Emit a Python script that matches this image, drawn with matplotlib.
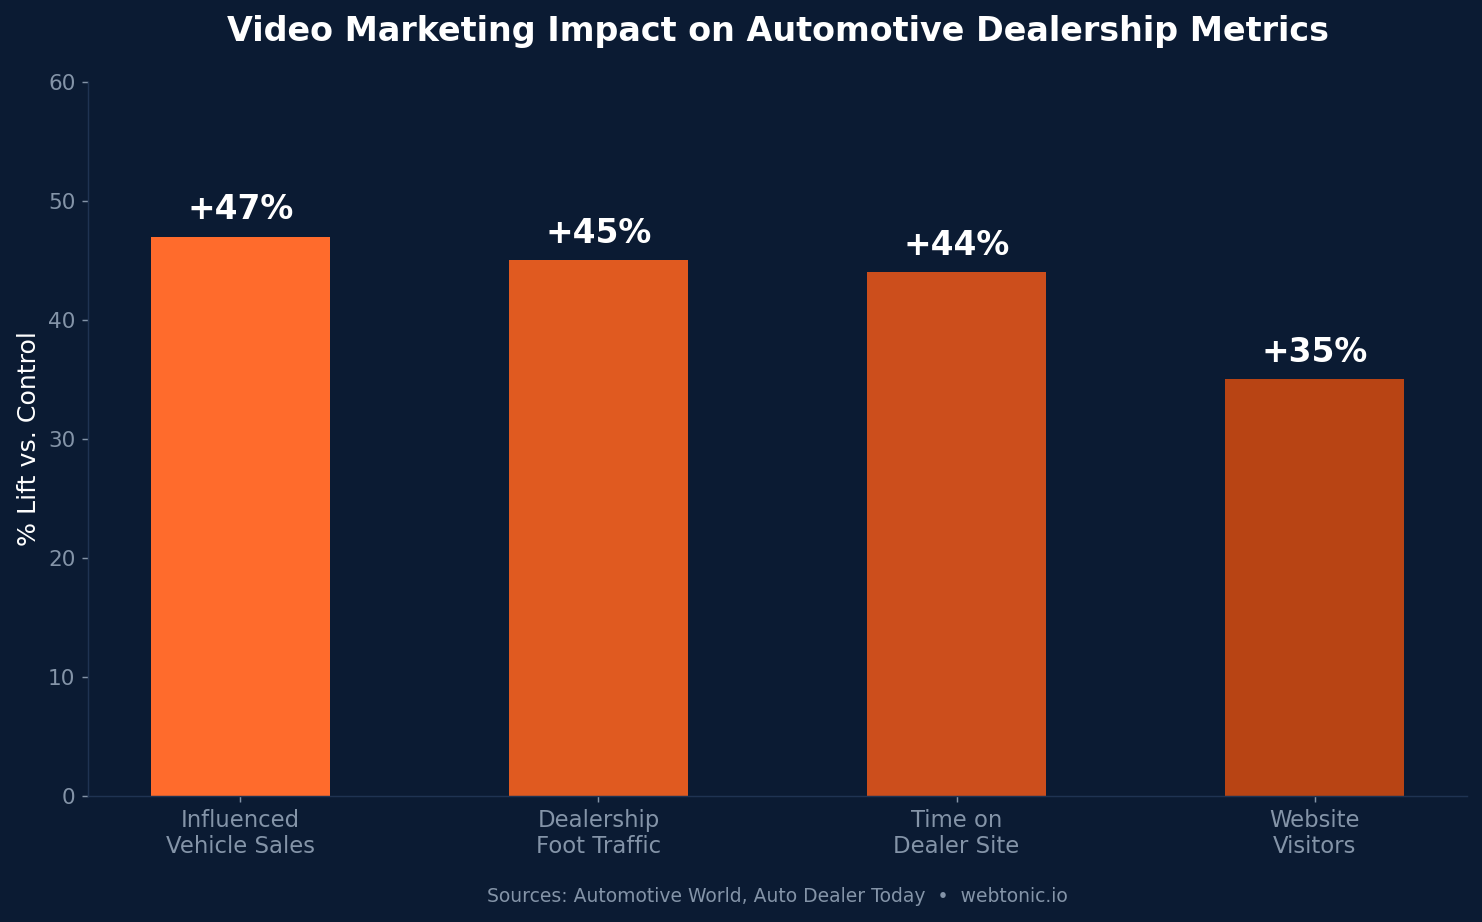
import matplotlib
matplotlib.use('Agg')
from matplotlib import pyplot as plt

categories = ['Influenced\nVehicle Sales', 'Dealership\nFoot Traffic',
              'Time on\nDealer Site', 'Website\nVisitors']
lift = [47, 45, 44, 35]
bar_colors = ['#FF6B2C', '#E05A20', '#CC4E1C', '#B84414']

bg = '#0B1B33'
muted = '#8494A8'
spine = '#1F3352'

fig = plt.figure(figsize=(1482 / 130, 922 / 130), dpi=130, facecolor=bg)
ax = fig.add_axes([0.0594, 0.1367, 0.9305, 0.7744])
ax.set_facecolor(bg)

x = list(range(len(categories)))
ax.bar(x, lift, width=0.5, color=bar_colors, zorder=2)

for xi, v in zip(x, lift):
    ax.text(xi, v + 0.9, f'+{v}%', ha='center', va='bottom',
            color='white', fontsize=18.2, fontweight='bold')

ax.set_ylim(0, 60)
ax.set_xticks(x)
ax.set_xticklabels(categories, color=muted, fontsize=12.6)
ax.tick_params(axis='y', colors=muted, labelsize=12)
ax.tick_params(axis='x', colors=muted)
for side in ['top', 'right']:
    ax.spines[side].set_visible(False)
for side in ['left', 'bottom']:
    ax.spines[side].set_color(spine)

ax.set_ylabel('% Lift vs. Control', color='white', fontsize=14)
fig.suptitle('Video Marketing Impact on Automotive Dealership Metrics',
             color='white', fontsize=18.5, fontweight='bold', x=0.5247, y=0.984)
fig.text(0.5247, 0.022, 'Sources: Automotive World, Auto Dealer Today  \u2022  webtonic.io',
         ha='center', color=muted, fontsize=10.4)

fig.savefig('out.png', facecolor=bg)
